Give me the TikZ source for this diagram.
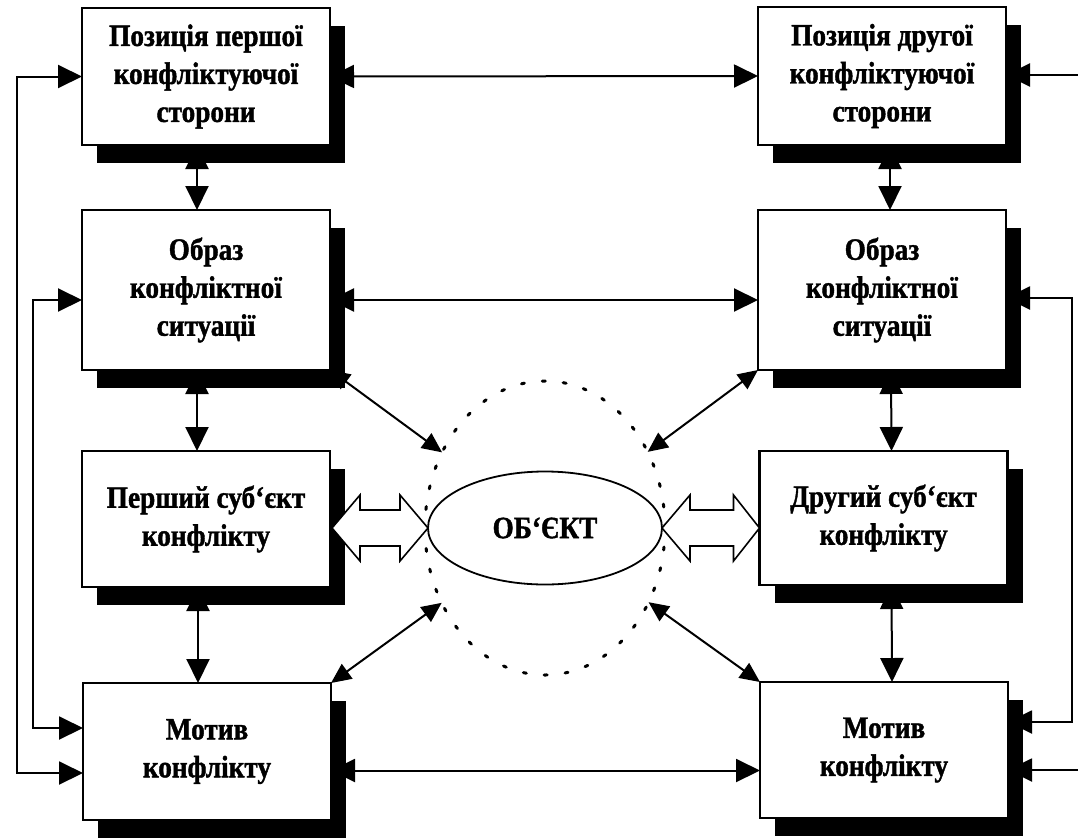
\documentclass[tikz,border=0pt]{standalone}
\usepackage{fontspec}
\setmainfont{Liberation Serif}
\newfontfamily\heavy{Liberation Serif}[FakeStretch=0.88,BoldFeatures={FakeBold=1.3,FakeStretch=0.88}]
\usetikzlibrary{arrows.meta,shapes.geometric,shadows,calc}
\begin{document}
\begin{tikzpicture}[x=1pt,y=-1pt,
  box/.style={draw, line width=2.2pt, fill=white, minimum width=248pt, inner sep=0pt, outer sep=0pt,
    align=center, font=\fontsize{31}{38}\selectfont\heavy\bfseries,
    drop shadow={shadow xshift=15pt, shadow yshift=-18pt, fill=black, opacity=1}},
  ln/.style={line width=2pt},
  dtip/.style={{Triangle[length=24pt,width=23pt]}-{Triangle[length=24pt,width=23pt]}},
  stip/.style={{Triangle[length=24pt,width=23pt]}-},
  dgtip/.style={{Triangle[length=20pt,width=18pt]}-{Triangle[length=20pt,width=18pt]}},
  hollow/.style={draw, line width=1.6pt, fill=white, line join=miter},
  dotring/.style={ellipse, draw, line width=3pt, dash pattern=on 3pt off 18pt, line cap=round,
    minimum width=240pt, minimum height=294pt, inner sep=0pt, outer sep=0pt},
  objnode/.style={ellipse, draw, line width=1.8pt, fill=white, minimum width=234pt, minimum height=113pt,
    inner sep=0pt, outer sep=0pt, font=\fontsize{31}{38}\selectfont\heavy\bfseries}
]
\useasboundingbox (0,0) rectangle (1078,838);

% dotted ring
\node[dotring] (circ) at (545,528) {};

% boxes
\node[box, minimum height=137pt] (L1) at (206,76.5) {Позиція першої\\конфліктуючої\\сторони};
\node[box, minimum height=160pt] (L2) at (206,290) {Образ\\конфліктної\\ситуації};
\node[box, minimum height=136pt] (L3) at (206,519) {Перший суб‘єкт\\конфлікту};
\node[box, minimum height=137pt] (L4) at (207,751.5) {Мотив\\конфлікту};
\node[box, minimum height=138pt] (R1) at (882,76) {Позиція другої\\конфліктуючої\\сторони};
\node[box, minimum height=160pt] (R2) at (882,290) {Образ\\конфліктної\\ситуації};
\node[box, minimum height=134pt] (R3) at (883.5,518) {Другий суб‘єкт\\конфлікту};
\node[box, minimum height=136pt] (R4) at (884,750) {Мотив\\конфлікту};

\node[objnode] (obj) at (545,528) {ОБ‘ЄКТ};

% vertical connectors
\draw[ln,dtip] ($(L1.south)+(-9,0)$) -- ($(L2.north)+(-9,0)$);
\draw[ln,dtip] ($(L2.south)+(-9,0)$) -- ($(L3.north)+(-9,0)$);
\draw[ln,dtip] ($(L3.south)+(-8,0)$) -- ($(L4.north)+(-9,0)$);
\draw[ln,dtip] ($(R1.south)+(8,0)$) -- ($(R2.north)+(8,0)$);
\draw[ln,dtip] ($(R2.south)+(9,0)$) -- ($(R3.north)+(8,0)$);
\draw[ln,dtip] ($(R3.south)+(8,0)$) -- ($(R4.north)+(8,0)$);

% horizontal connectors
\draw[ln,dtip] (L1.east) -- (R1.west);
\draw[ln,dtip] ($(L2.east)+(0,10)$) -- ($(R2.west)+(0,10)$);
\draw[ln,dtip] ($(L4.east)+(0,19)$) -- (R4.west |- {$(L4.east)+(0,19)$});

% left loops
\coordinate (A1) at (17,76.5);
\coordinate (A2) at (17,773);
\draw[ln,dtip] (L1.west) -- (A1) -- (A2) -- (L4.west |- A2);
\coordinate (B1) at (33,300);
\coordinate (B2) at (33,728);
\draw[ln,dtip] (L2.west |- B1) -- (B1) -- (B2) -- (L4.west |- B2);

% right loop and free ends
\coordinate (C1) at (1072,298);
\coordinate (C2) at (1072,722);
\draw[ln,dtip] (R2.east |- C1) -- (C1) -- (C2) -- (R4.east |- C2);
\coordinate (D1) at (1078,75);
\coordinate (D2) at (1078,770);
\draw[ln,stip] (R1.east |- D1) -- (D1);
\draw[ln,stip] (R4.east |- D2) -- (D2);

% diagonals to the ring
\draw[ln,dgtip] (L2.south east) -- (circ);
\draw[ln,dgtip] (R2.south west) -- (circ);
\draw[ln,dgtip] (L4.north east) -- (circ);
\draw[ln,dgtip] (R4.north west) -- (circ);

% hollow double arrows
\draw[hollow] ($(L3.east |- obj.west)+(2,0)$) -- ++(28,-33) -- ++(0,15) -- ($(obj.west)+(-28,-18)$)
  -- ++(0,-15) -- (obj.west) -- ++(-28,33) -- ++(0,-15) -- ($(L3.east |- obj.west)+(30,18)$) -- ++(0,15) -- cycle;
\draw[hollow] (obj.east) -- ++(28,-33) -- ++(0,15) -- ($(R3.west |- obj.east)+(-26,-18)$)
  -- ++(0,-15) -- (R3.west |- obj.east) -- ++(-26,33) -- ++(0,-15) -- ($(obj.east)+(28,18)$) -- ++(0,15) -- cycle;
\end{tikzpicture}
\end{document}
